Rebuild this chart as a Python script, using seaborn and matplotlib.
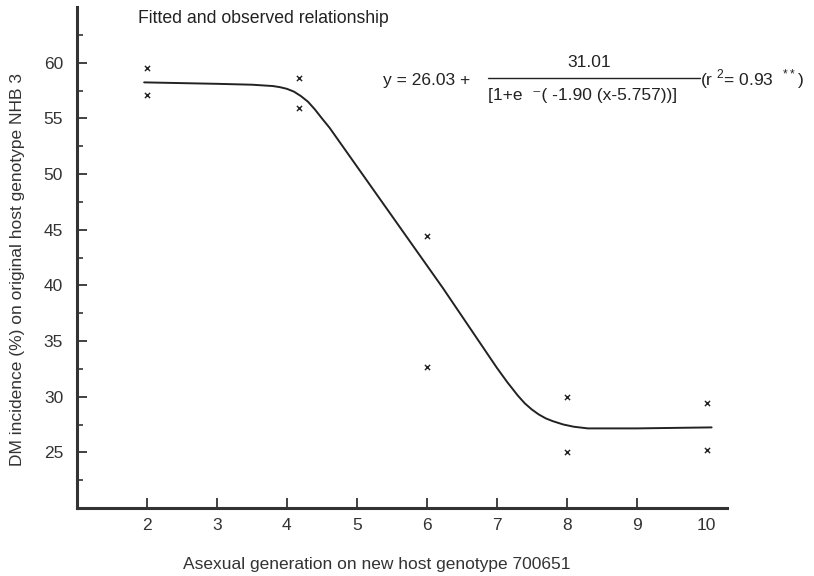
import matplotlib
matplotlib.use("Agg")
import matplotlib.pyplot as plt
import seaborn as sns
import pandas as pd
from matplotlib.lines import Line2D

# observed points (two replicates per generation)
obs_x = [2, 2, 4.17, 4.17, 6, 6, 8, 8, 10, 10]
obs_y = [59.5, 57.1, 58.6, 55.9, 44.4, 32.7, 30.0, 25.05, 29.4, 25.2]

# fitted curve
fit_x = [1.96, 3.0, 3.5, 3.8, 3.9, 4.0, 4.1, 4.2, 4.3, 4.4, 4.5, 4.61, 6.23, 7.0,
         7.15, 7.3, 7.4, 7.5, 7.6, 7.7, 7.8, 7.95, 8.1, 8.3, 9.0, 10.07]
fit_y = [58.23, 58.1, 58.02, 57.9, 57.8, 57.65, 57.4, 57.0, 56.5, 55.8, 55.0, 54.15, 39.75, 32.6,
         31.3, 30.1, 29.4, 28.85, 28.4, 28.05, 27.8, 27.5, 27.3, 27.15, 27.15, 27.24]

x_ticks = [2, 3, 4, 5, 6, 7, 8, 9, 10]
y_ticks = [25, 30, 35, 40, 45, 50, 55, 60]
y_minor = [22.5, 27.5, 32.5, 37.5, 42.5, 47.5, 52.5, 57.5, 62.5]

sns.set_style("ticks")
plt.rcParams['font.family'] = ['Liberation Sans', 'DejaVu Sans']
plt.rcParams['mathtext.fontset'] = 'custom'
plt.rcParams['mathtext.rm'] = 'Liberation Sans'

ink = "#222222"
fs = 12.5
fig = plt.figure(figsize=(8.14, 5.76), dpi=100)
ax = fig.add_axes([77 / 814, 1 - 508 / 576, 650 / 814, 501 / 576])

fit = pd.DataFrame({"x": fit_x, "y": fit_y})
obs = pd.DataFrame({"x": obs_x, "y": obs_y})
sns.lineplot(data=fit, x="x", y="y", ax=ax, color=ink, linewidth=1.4)
sns.scatterplot(data=obs, x="x", y="y", ax=ax, marker="x", s=14, color=ink, linewidth=1.0)

ax.set_xlim(1, 10.29)
ax.set_ylim(20, 65)
ax.set_xticks(x_ticks)
ax.set_yticks(y_ticks)
ax.set_yticks(y_minor, minor=True)
ax.tick_params(axis="both", which="major", direction="in", length=7, width=1.3,
               colors="#333333", labelsize=fs)
ax.tick_params(axis="y", which="major", pad=10)
ax.tick_params(axis="x", which="major", pad=7)
ax.tick_params(axis="y", which="minor", direction="in", length=4, width=1.2, color="#333333")
ax.xaxis.get_major_ticks()[-1].tick1line.set_visible(False)

for s in ["top", "right"]:
    ax.spines[s].set_visible(False)
for s in ["left", "bottom"]:
    ax.spines[s].set_linewidth(2.2)
    ax.spines[s].set_color("#333333")

ax.set_xlabel("Asexual generation on new host genotype 700651", fontsize=fs, color="#333333")
ax.set_ylabel("DM incidence (%) on original host genotype NHB 3", fontsize=fs, color="#333333")
ax.xaxis.set_label_coords((377 - 77) / 650, -(557 - 508) / 501)
ax.yaxis.set_label_coords(-(77 - 25) / 650, (508 - 269) / 501)


# annotation texts in figure pixel coordinates
def fx(px):
    return px / 814


def fy(py):
    return 1 - py / 576


fig.text(fx(138), fy(23), "Fitted and observed relationship", fontsize=12.7,
         color=ink, va="baseline", ha="left")
fig.text(fx(383), fy(85), "y = 26.03 +", fontsize=fs, color=ink, va="baseline", ha="left")
fig.text(fx(589), fy(67), "31.01", fontsize=fs, color=ink, va="baseline", ha="center")
fig.text(fx(488), fy(100), "[1+e  \u207b( -1.90 (x-5.757))]", fontsize=fs, color=ink,
         va="baseline", ha="left")
fig.add_artist(Line2D([fx(488), fx(700)], [fy(78), fy(78)], color=ink, linewidth=1.0))
fig.text(fx(700), fy(85), "(r $^{2}$= 0.93  $^{**}$)", fontsize=fs, color=ink,
         va="baseline", ha="left")

fig.savefig("out.png", dpi=100)
